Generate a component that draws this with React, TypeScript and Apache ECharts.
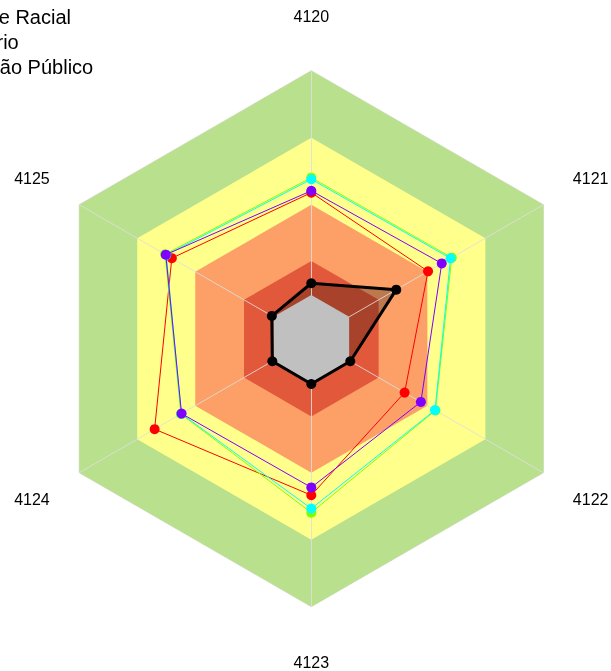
import React, { useEffect, useRef } from 'react';
import * as echarts from 'echarts';

// Axes, clockwise from the top
const categories = ['4120', '4121', '4122', '4123', '4124', '4125'];
const axisMax = 100;

// Background bands (outer to inner)
const bandLevels = [100, 75, 50, 29, 16.3];
const bandColors = ['#B9E08D', '#FFFF8C', '#FCA068', '#E2583A', '#C0C0C0'];

// Series (values in category order)
const seriesNames = ['Igualdade Racial', 'Calendário', 'Informação Público', 'Média', 'Escola'];
const legendNames = ['Igualdade Racial', 'Calendário', 'Informação Público'];
const redValues = [54.5, 50.3, 40.2, 58.4, 67.5, 60.1];
const greenValues = [60.1, 60.5, 53.5, 64.9, 56.2, 63.0];
const cyanValues = [59.5, 60.0, 53.3, 63.4, 56.0, 62.5];
const purpleValues = [55.2, 56.2, 47.2, 55.5, 55.9, 62.7];
const blackValues = [20.7, 36.6, 16.8, 16.9, 16.8, 17.0];

const FONT = 'Liberation Sans, Arial, sans-serif';

// ECharts radar goes counter-clockwise; reorder so the picture runs clockwise
const toRadar = <T,>(arr: T[]): T[] => [arr[0], ...arr.slice(1).reverse()];

function labelStyleKey(name: string): string {
  const i = categories.indexOf(name);
  if (i === 0) return 't';
  if (i === 3) return 'b';
  if (i === 1 || i === 5) return 'su';
  return 'sl';
}

export default function App() {
  const ref = useRef<HTMLDivElement>(null);

  useEffect(() => {
    if (!ref.current) return;
    const chart = echarts.init(ref.current, undefined, { renderer: 'svg' });

    const bandSeries = bandLevels.map((lvl, k) => ({
      type: 'radar',
      name: 'band' + k,
      silent: true,
      z: k < 4 ? k + 1 : 7,
      symbol: 'none',
      lineStyle: k === 0 ? { color: '#DCDCDC', width: 1 } : { width: 0, opacity: 0 },
      areaStyle: { color: bandColors[k], opacity: 1 },
      emphasis: { disabled: true },
      data: [{ value: categories.map(() => lvl) }],
    }));

    const lineSeries = (name: string, values: number[], color: string, z: number, width = 1) => ({
      type: 'radar',
      name,
      z,
      symbol: 'circle',
      symbolSize: 10,
      lineStyle: { color, width },
      itemStyle: { color },
      emphasis: { disabled: true },
      data: [{ value: toRadar(values), name }],
    });

    const option: any = {
      animation: false,
      legend: {
        data: legendNames,
        orient: 'vertical',
        left: -113,
        top: 2,
        itemGap: 5,
        itemWidth: 25,
        itemHeight: 14,
        textStyle: { fontSize: 20, color: '#000', fontFamily: FONT },
      },
      radar: {
        z: 6,
        center: [311.3, 338.7],
        radius: 268,
        shape: 'polygon',
        startAngle: 90,
        nameGap: 34,
        indicator: toRadar(categories).map((c) => ({ name: c, max: axisMax, min: 0 })),
        splitNumber: 4,
        splitArea: { show: false },
        splitLine: { show: false },
        axisTick: { show: false },
        axisLabel: { show: false },
        axisLine: { show: true, lineStyle: { color: 'rgba(222,222,222,0.85)', width: 1 } },
        axisName: {
          color: '#000',
          fontSize: 16,
          fontFamily: FONT,
          formatter: (name: string) => `{${labelStyleKey(name)}|${name}}`,
          rich: {
            t: { fontSize: 16, fontFamily: FONT, color: '#000', lineHeight: 40 },
            b: { fontSize: 16, fontFamily: FONT, color: '#000', lineHeight: 43 },
            su: { fontSize: 16, fontFamily: FONT, color: '#000', padding: [0, 0, 19, 0] },
            sl: { fontSize: 16, fontFamily: FONT, color: '#000', padding: [19, 0, 0, 0] },
          },
        },
      },
      series: [
        ...bandSeries.slice(0, 4),
        {
          type: 'radar',
          name: 'fill',
          silent: true,
          z: 5,
          symbol: 'none',
          lineStyle: { width: 0, opacity: 0 },
          areaStyle: { color: 'rgba(0,0,0,0.25)', opacity: 1 },
          emphasis: { disabled: true },
          data: [{ value: toRadar(blackValues) }],
        },
        bandSeries[4],
        lineSeries(seriesNames[0], redValues, '#FF0000', 8),
        lineSeries(seriesNames[3], greenValues, '#80FF00', 9),
        lineSeries(seriesNames[2], cyanValues, '#00FFFF', 10),
        lineSeries(seriesNames[1], purpleValues, '#8000FF', 11),
        lineSeries(seriesNames[4], blackValues, '#000000', 12, 3),
      ],
    };

    chart.setOption(option);
    return () => chart.dispose();
  }, []);

  return (
    <div
      ref={ref}
      style={{ position: 'fixed', left: 0, top: 0, width: 611, height: 671 }}
    />
  );
}
